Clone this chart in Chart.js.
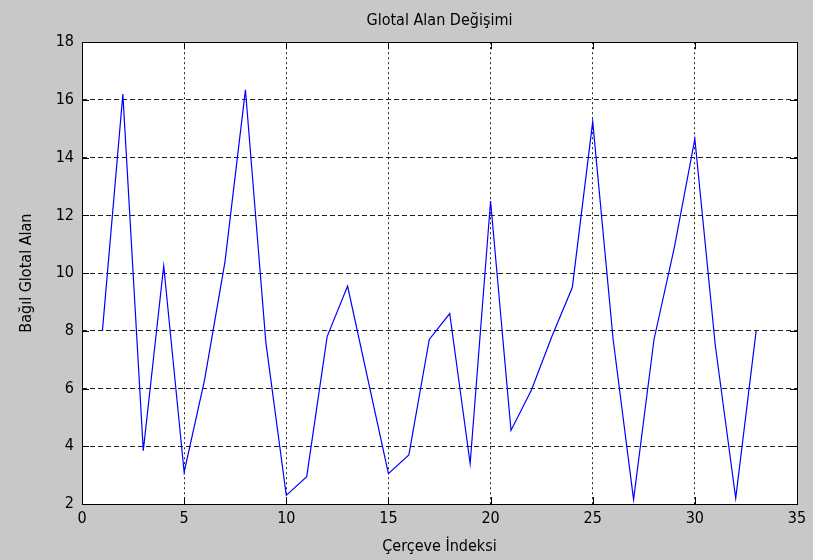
<!DOCTYPE html>
<html>
<head>
<meta charset="utf-8">
<script src="https://cdn.jsdelivr.net/npm/chart.js@4/dist/chart.umd.min.js"></script>
<style>
  html, body { margin: 0; padding: 0; background: #c8c8c8; }
  #wrap { width: 813px; height: 560px; }
</style>
</head>
<body>
<div id="wrap"><canvas id="glotChart" width="813" height="560"></canvas></div>
<script>
// frame indices and relative glottal area per frame
const frameIdx = [1, 2, 3, 4, 5, 6, 7, 8, 9, 10, 11, 12, 13, 14, 15, 16, 17,
                  18, 19, 20, 21, 22, 23, 24, 25, 26, 27, 28, 29, 30, 31, 32, 33];
const glotArea = [8.0, 16.2, 3.85, 10.25, 3.1, 6.3, 10.4, 16.35, 7.6, 2.3, 2.95,
                  7.8, 9.55, 6.3, 3.05, 3.7, 7.7, 8.6, 3.4, 12.5, 4.55, 5.95,
                  7.8, 9.5, 15.25, 7.7, 2.15, 7.7, 10.9, 14.65, 7.5, 2.2, 8.0];

const xTicks = [0, 5, 10, 15, 20, 25, 30, 35];
const yTicks = [2, 4, 6, 8, 10, 12, 14, 16, 18];

const FONT = "'DejaVu Sans Condensed', 'Liberation Sans Narrow', 'Liberation Sans', sans-serif";

// white axes box, frame and inward tick marks on all four sides
const axesBox = {
  id: 'axesBox',
  beforeDraw(chart) {
    const { ctx, chartArea: a } = chart;
    ctx.save();
    ctx.fillStyle = '#ffffff';
    ctx.fillRect(a.left, a.top, a.right - a.left, a.bottom - a.top);
    ctx.restore();
  },
  afterDatasetsDraw(chart) {
    const { ctx, chartArea: a, scales } = chart;
    const len = 7;
    ctx.save();
    ctx.strokeStyle = '#000000';
    ctx.lineWidth = 1;
    ctx.beginPath();
    xTicks.forEach(v => {
      const px = Math.round(scales.x.getPixelForValue(v)) + 0.5;
      ctx.moveTo(px, a.bottom); ctx.lineTo(px, a.bottom - len);
      ctx.moveTo(px, a.top); ctx.lineTo(px, a.top + len);
    });
    yTicks.forEach(v => {
      const py = Math.round(scales.y.getPixelForValue(v)) + 0.5;
      ctx.moveTo(a.left, py); ctx.lineTo(a.left + len, py);
      ctx.moveTo(a.right, py); ctx.lineTo(a.right - len, py);
    });
    ctx.stroke();
    ctx.strokeRect(Math.round(a.left) + 0.5, Math.round(a.top) + 0.5,
                   Math.round(a.right - a.left), Math.round(a.bottom - a.top));
    ctx.restore();
  }
};

new Chart(document.getElementById('glotChart'), {
  type: 'line',
  data: {
    datasets: [{
      data: frameIdx.map((f, i) => ({ x: f, y: glotArea[i] })),
      borderColor: '#0000ff',
      borderWidth: 1.2,
      pointRadius: 0,
      tension: 0,
      fill: false
    }]
  },
  options: {
    responsive: false,
    animation: false,
    layout: { padding: { left: 0, right: 16, top: 0, bottom: 0 } },
    plugins: {
      legend: { display: false },
      tooltip: { enabled: false },
      title: {
        display: true,
        fullSize: false,
        text: 'Glotal Alan Değişimi',
        color: '#000000',
        font: { family: FONT, size: 16, weight: 'normal' },
        padding: { top: 11, bottom: 12 }
      }
    },
    scales: {
      x: {
        type: 'linear',
        min: 0, max: 35,
        afterBuildTicks: s => { s.ticks = xTicks.map(v => ({ value: v })); },
        afterFit: s => { s.height = 56; },
        ticks: { color: '#000000', font: { family: FONT, size: 16 }, padding: 5 },
        grid: { color: '#222222', drawTicks: false, tickLength: 0 },
        border: { display: false, dash: [2, 3] },
        title: {
          display: true,
          text: 'Çerçeve İndeksi',
          color: '#000000',
          font: { family: FONT, size: 16 },
          padding: { top: 0 }
        }
      },
      y: {
        min: 2, max: 18,
        afterBuildTicks: s => { s.ticks = yTicks.map(v => ({ value: v })); },
        afterFit: s => { s.width = 82; },
        ticks: { color: '#000000', font: { family: FONT, size: 16 }, padding: 8 },
        grid: { color: '#222222', drawTicks: false, tickLength: 0 },
        border: { display: false, dash: [5, 3] },
        title: {
          display: true,
          text: 'Bağıl Glotal Alan',
          color: '#000000',
          font: { family: FONT, size: 16 },
          padding: { top: 17, bottom: 0 }
        }
      }
    }
  },
  plugins: [axesBox]
});
</script>
</body>
</html>
